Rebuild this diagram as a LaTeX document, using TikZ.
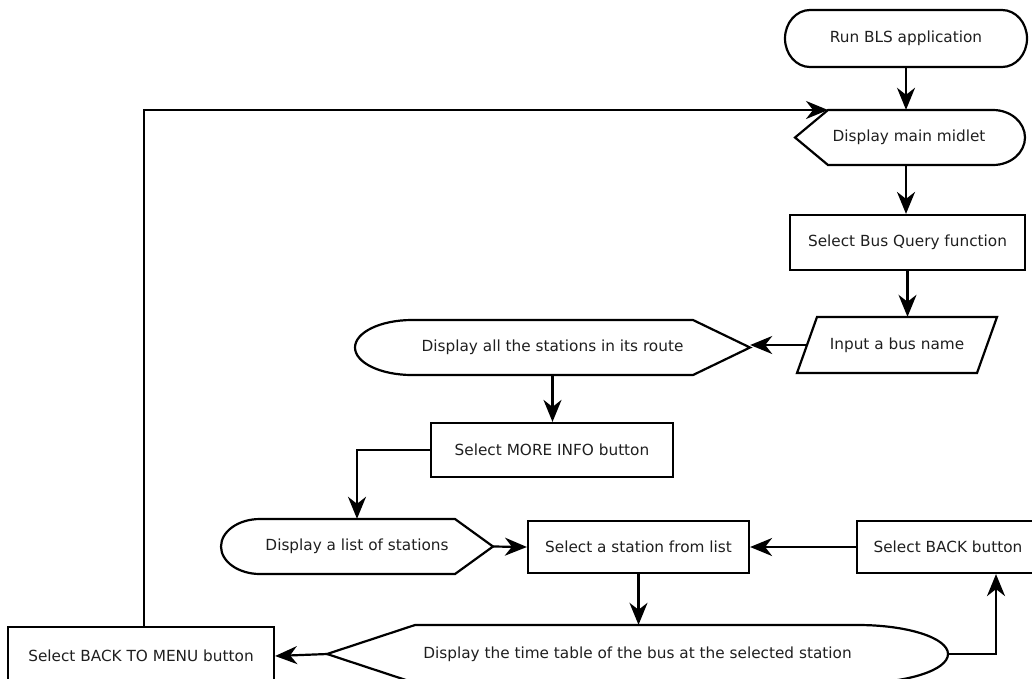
\documentclass[tikz,border=0pt]{standalone}
\usepackage{fontspec}
\setmainfont{DejaVu Sans}
\usetikzlibrary{arrows.meta,calc}
\begin{document}
\begin{tikzpicture}[x=1pt,y=1pt,
  outline/.style={draw=black, line width=2.2pt, line join=miter},
  flow/.style={draw=black, line width=2.2pt, line join=miter,
    -{Stealth[length=22pt,width=18pt,inset=7pt]}},
  txt/.style={inner sep=0pt, font=\fontsize{15.3}{18}\selectfont, text=black!88},
  box/.style={txt, draw=black, line width=2.2pt, rectangle}
]
\useasboundingbox (0,0) rectangle (1032,-678);
\clip (0,0) rectangle (1032,-678);

% ---- start terminal
\node[txt, minimum width=242pt, minimum height=57pt] (run) at (906,-38.5) {Run BLS application};
\draw[outline] (810,-10) -- (1002,-10)
  arc[start angle=90,end angle=-90,x radius=25,y radius=28.5] -- (810,-67)
  arc[start angle=270,end angle=90,x radius=25,y radius=28.5] -- cycle;

% ---- main midlet display
\node[txt, minimum width=230pt, minimum height=55pt] (midlet) at (909,-137.5) {Display main midlet};
\draw[outline] (795,-137.5) -- (828,-110) -- (993,-110)
  arc[start angle=90,end angle=-90,x radius=32,y radius=27.5] -- (828,-165) -- cycle;
\coordinate (midletin) at (828,-110);

% ---- bus query
\node[box, minimum width=235pt, minimum height=55pt] (bus) at (907.5,-242.5) {Select Bus Query function};

% ---- input bus name
\node[txt, minimum width=180pt, minimum height=56pt] (input) at (897,-345) {Input a bus name};
\draw[outline] (817,-317) -- (997,-317) -- (977,-373) -- (797,-373) -- cycle;

% ---- stations on route
\node[txt, minimum width=395pt, minimum height=55pt] (allst) at (552.5,-347.5) {Display all the stations in its route};
\draw[outline] (412,-320) -- (693,-320) -- (750,-347.5) -- (693,-375) -- (412,-375)
  arc[start angle=270,end angle=90,x radius=57,y radius=27.5] -- cycle;

% ---- more info
\node[box, minimum width=242pt, minimum height=54pt] (more) at (552,-450) {Select MORE INFO button};

% ---- list of stations
\node[txt, minimum width=272pt, minimum height=55pt] (list) at (357,-546.5) {Display a list of stations};
\draw[outline] (260,-519) -- (455,-519) -- (493,-546.5) -- (455,-574) -- (260,-574)
  arc[start angle=270,end angle=90,x radius=39,y radius=27.5] -- cycle;

% ---- station choice and back button
\node[box, minimum width=221pt, minimum height=52pt] (station) at (638.5,-547) {Select a station from list};
\node[box, minimum width=182pt, minimum height=52pt] (back) at (948,-547) {Select BACK button};

% ---- time table display
\node[txt, minimum width=621pt, minimum height=58pt] (big) at (637.5,-654) {Display the time table of the bus at the selected station};
\draw[outline] (327,-654) -- (415,-625) -- (858,-625)
  arc[start angle=90,end angle=-90,x radius=90,y radius=29] -- (415,-683) -- cycle;
\coordinate (bigL) at (327,-654);
\coordinate (bigR) at (948,-654);

% ---- back to menu
\node[box, minimum width=266pt, minimum height=58pt] (menu) at (141,-656) {Select BACK TO MENU button};

% ---- connectors
\draw[flow] (run.south) -- (run.south |- midlet.north);
\draw[flow] (run.south |- midlet.south) -- (run.south |- bus.north);
\draw[flow] (bus.south) -- (bus.south |- input.north);
\draw[flow] (input.west) -- (input.west -| allst.east);
\draw[flow] (allst.south) -- (allst.south |- more.north);
\draw[flow] (more.west) -| (list.north);
\draw[flow] (list.east) -- (station.west);
\draw[flow] (back.west) -- (station.east);
\draw[flow] (station.south) -- (station.south |- big.north);
\draw[flow] (bigR) -| ([xshift=48pt]back.south);
\draw[flow] (bigL) -- (menu.east);
\draw[flow] ([xshift=3pt]menu.north) |- (midletin);
\end{tikzpicture}
\end{document}
